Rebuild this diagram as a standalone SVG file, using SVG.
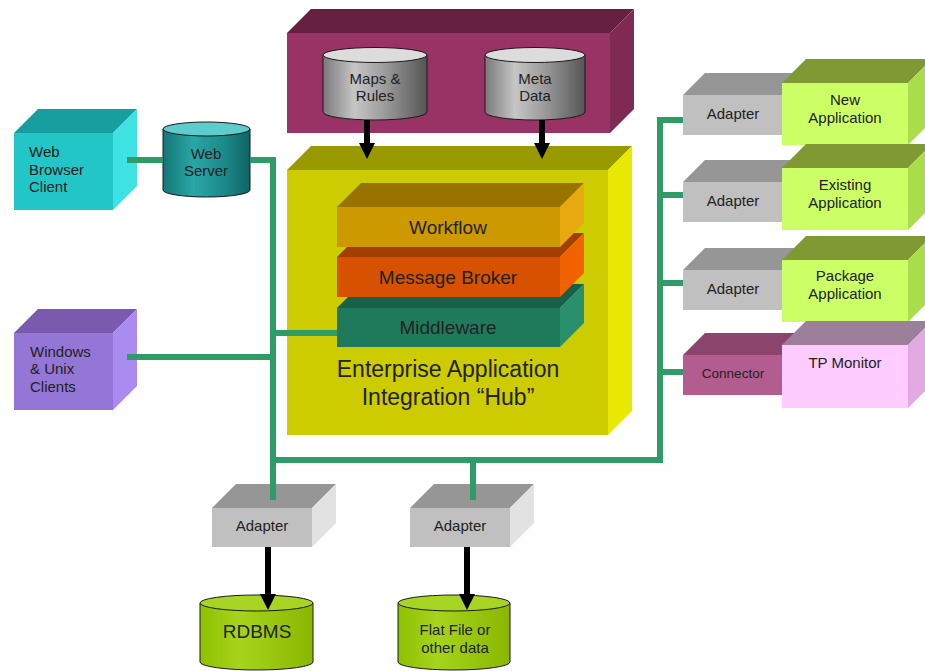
<svg xmlns="http://www.w3.org/2000/svg" width="925" height="671" viewBox="0 0 925 671">
  <style>
    text { font-family: "Liberation Sans", Arial, sans-serif; fill: #222; }
    .lbl { font-size: 15px; }
    .mid { text-anchor: middle; }
    .slab { font-size: 19px; text-anchor: middle; }
    .hub { font-size: 23px; text-anchor: middle; }
    .bus { fill: none; stroke: #2f9b66; stroke-width: 6; stroke-linejoin: miter; stroke-linecap: butt; }
    .flow { fill: none; stroke: #000; stroke-width: 6; marker-end: url(#head); }
    .cyl { stroke: #1a1a1a; stroke-width: 1; }
  </style>
  <defs>
    <marker id="head" markerUnits="userSpaceOnUse" markerWidth="16" markerHeight="16" refX="6" refY="8" orient="auto" viewBox="0 0 16 16">
      <path d="M0,0 L16,8 L0,16 z" fill="#000"/>
    </marker>
    <linearGradient id="grayCyl" x1="0" y1="0" x2="1" y2="0">
      <stop offset="0" stop-color="#7a7a7a"/>
      <stop offset="0.3" stop-color="#c6c6c6"/>
      <stop offset="0.6" stop-color="#9a9a9a"/>
      <stop offset="1" stop-color="#555"/>
    </linearGradient>
    <linearGradient id="tealCyl" x1="0" y1="0" x2="1" y2="0">
      <stop offset="0" stop-color="#137676"/>
      <stop offset="0.35" stop-color="#2aa6a6"/>
      <stop offset="0.7" stop-color="#1b8a8a"/>
      <stop offset="1" stop-color="#0f6464"/>
    </linearGradient>
    <linearGradient id="greenCyl" x1="0" y1="0" x2="1" y2="0">
      <stop offset="0" stop-color="#8fc000"/>
      <stop offset="0.35" stop-color="#a6d41c"/>
      <stop offset="1" stop-color="#8ab800"/>
    </linearGradient>
  </defs>

  <!-- Web browser client -->
  <g id="web-browser-client">
    <rect x="14" y="133" width="99" height="77" fill="#22c6c6"/>
    <polygon points="14,133 38,109 137,109 113,133" fill="#179e9e"/>
    <polygon points="113,133 137,109 137,186 113,210" fill="#3ee2e2"/>
    <text class="lbl" x="29" y="157">Web</text>
    <text class="lbl" x="29" y="175">Browser</text>
    <text class="lbl" x="29" y="192">Client</text>
  </g>

  <!-- Web server -->
  <g id="web-server">
    <path class="cyl" d="M163,129 V190 A43.5,7 0 0 0 250,190 V129 Z" fill="url(#tealCyl)"/>
    <ellipse class="cyl" cx="206.5" cy="129" rx="43.5" ry="7" fill="#5ccccc"/>
    <text class="lbl mid" x="206" y="159">Web</text>
    <text class="lbl mid" x="206" y="176">Server</text>
  </g>

  <!-- Windows & Unix clients -->
  <g id="windows-unix-clients">
    <rect x="14" y="333" width="99" height="77" fill="#9476d6"/>
    <polygon points="14,333 38,309 137,309 113,333" fill="#7a5aae"/>
    <polygon points="113,333 137,309 137,386 113,410" fill="#aa8bef"/>
    <text class="lbl" x="30" y="357">Windows</text>
    <text class="lbl" x="30" y="374">&amp; Unix</text>
    <text class="lbl" x="30" y="392">Clients</text>
  </g>

  <!-- Repository block holding the two stores -->
  <g id="repository">
    <rect x="287" y="33" width="323" height="100" fill="#993366"/>
    <polygon points="287,33 311,9 634,9 610,33" fill="#66203f"/>
    <polygon points="610,33 634,9 634,109 610,133" fill="#7f2a52"/>
  </g>

  <g id="maps-rules">
    <path class="cyl" d="M323,55 V112 A52,8 0 0 0 427,112 V55 Z" fill="url(#grayCyl)"/>
    <ellipse class="cyl" cx="375" cy="55" rx="52" ry="7.5" fill="#dcdcdc"/>
    <text class="lbl mid" x="375" y="84">Maps &amp;</text>
    <text class="lbl mid" x="375" y="101">Rules</text>
  </g>

  <g id="meta-data">
    <path class="cyl" d="M485,55 V112 A50,8 0 0 0 585,112 V55 Z" fill="url(#grayCyl)"/>
    <ellipse class="cyl" cx="535" cy="55" rx="50" ry="7.5" fill="#dcdcdc"/>
    <text class="lbl mid" x="535" y="84">Meta</text>
    <text class="lbl mid" x="535" y="101">Data</text>
  </g>

  <!-- EAI hub with its three layers -->
  <g id="eai-hub">
    <rect x="287" y="170" width="321" height="265" fill="#cccc00"/>
    <polygon points="287,170 311,146 632,146 608,170" fill="#999900"/>
    <polygon points="608,170 632,146 632,411 608,435" fill="#e8e800"/>
    <text class="hub" x="448" y="377">Enterprise Application</text>
    <text class="hub" x="448" y="405">Integration “Hub”</text>
  </g>

  <g id="middleware">
    <rect x="337" y="308" width="223" height="39" fill="#1f7a5c"/>
    <polygon points="337,308 361,284 584,284 560,308" fill="#176049"/>
    <polygon points="560,308 584,284 584,323 560,347" fill="#2a8f6c"/>
    <text class="slab" x="448" y="334">Middleware</text>
  </g>

  <g id="message-broker">
    <rect x="337" y="257" width="223" height="40" fill="#d65200"/>
    <polygon points="337,257 361,233 584,233 560,257" fill="#a33d00"/>
    <polygon points="560,257 584,233 584,273 560,297" fill="#f26200"/>
    <text class="slab" x="448" y="284">Message Broker</text>
  </g>

  <g id="workflow">
    <rect x="337" y="207" width="223" height="40" fill="#cc9900"/>
    <polygon points="337,207 361,183 584,183 560,207" fill="#997300"/>
    <polygon points="560,207 584,183 584,223 560,247" fill="#e8a810"/>
    <text class="slab" x="448" y="234">Workflow</text>
  </g>

  <!-- Right-hand applications and their adapters -->
  <g id="adapter-new">
    <rect x="683" y="95" width="100" height="40" fill="#c0c0c0"/>
    <polygon points="683,95 705,73 805,73 783,95" fill="#969696"/>
    <text class="lbl mid" x="733" y="119">Adapter</text>
  </g>
  <g id="new-application">
    <rect x="782" y="83" width="126" height="62" fill="#ccff66"/>
    <polygon points="782,83 806,59 932,59 908,83" fill="#7f9933"/>
    <polygon points="908,83 932,59 932,121 908,145" fill="#a9dd4c"/>
    <text class="lbl mid" x="845" y="105">New</text>
    <text class="lbl mid" x="845" y="123">Application</text>
  </g>

  <g id="adapter-existing">
    <rect x="683" y="182" width="100" height="40" fill="#c0c0c0"/>
    <polygon points="683,182 705,160 805,160 783,182" fill="#969696"/>
    <text class="lbl mid" x="733" y="206">Adapter</text>
  </g>
  <g id="existing-application">
    <rect x="782" y="168" width="126" height="62" fill="#ccff66"/>
    <polygon points="782,168 806,144 932,144 908,168" fill="#7f9933"/>
    <polygon points="908,168 932,144 932,206 908,230" fill="#a9dd4c"/>
    <text class="lbl mid" x="845" y="190">Existing</text>
    <text class="lbl mid" x="845" y="208">Application</text>
  </g>

  <g id="adapter-package">
    <rect x="683" y="270" width="100" height="40" fill="#c0c0c0"/>
    <polygon points="683,270 705,248 805,248 783,270" fill="#969696"/>
    <text class="lbl mid" x="733" y="294">Adapter</text>
  </g>
  <g id="package-application">
    <rect x="782" y="260" width="126" height="62" fill="#ccff66"/>
    <polygon points="782,260 806,236 932,236 908,260" fill="#7f9933"/>
    <polygon points="908,260 932,236 932,298 908,322" fill="#a9dd4c"/>
    <text class="lbl mid" x="845" y="281">Package</text>
    <text class="lbl mid" x="845" y="299">Application</text>
  </g>

  <g id="connector">
    <rect x="683" y="355" width="100" height="40" fill="#b35c8f"/>
    <polygon points="683,355 705,333 805,333 783,355" fill="#8c466e"/>
    <text class="mid" x="733" y="378" style="font-size:13.5px">Connector</text>
  </g>
  <g id="tp-monitor">
    <rect x="782" y="345" width="126" height="63" fill="#ffccff"/>
    <polygon points="782,345 806,321 932,321 908,345" fill="#9c7f99"/>
    <polygon points="908,345 932,321 932,384 908,408" fill="#e2a8e2"/>
    <text class="lbl mid" x="845" y="368">TP Monitor</text>
  </g>

  <!-- Bottom adapters and data stores -->
  <g id="adapter-rdbms">
    <rect x="212" y="508" width="100" height="39" fill="#c0c0c0"/>
    <polygon points="212,508 236,484 336,484 312,508" fill="#969696"/>
    <polygon points="312,508 336,484 336,523 312,547" fill="#e2e2e2"/>
    <text class="lbl mid" x="262" y="531">Adapter</text>
  </g>
  <g id="adapter-flat-file">
    <rect x="410" y="508" width="100" height="39" fill="#c0c0c0"/>
    <polygon points="410,508 434,484 534,484 510,508" fill="#969696"/>
    <polygon points="510,508 534,484 534,523 510,547" fill="#e2e2e2"/>
    <text class="lbl mid" x="460" y="531">Adapter</text>
  </g>

  <g id="rdbms">
    <path class="cyl" d="M200,603 V662 A56.5,8 0 0 0 313,662 V603 Z" fill="url(#greenCyl)"/>
    <ellipse class="cyl" cx="256.5" cy="603" rx="56.5" ry="8" fill="#a8d424"/>
    <text class="mid" x="257" y="638" style="font-size:19px">RDBMS</text>
  </g>
  <g id="flat-file">
    <path class="cyl" d="M398,603 V662 A56,8 0 0 0 510,662 V603 Z" fill="url(#greenCyl)"/>
    <ellipse class="cyl" cx="454" cy="603" rx="56" ry="8" fill="#a8d424"/>
    <text class="lbl mid" x="455" y="635">Flat File or</text>
    <text class="lbl mid" x="455" y="653">other data</text>
  </g>

  <!-- Connectors: green bus and black data-flow arrows -->
  <g id="connectors">
    <path class="bus" d="M127,160 H163"/>
    <path class="bus" d="M250,160 H273 V500"/>
    <path class="bus" d="M127,357 H273"/>
    <path class="bus" d="M273,333 H337"/>
    <path class="bus" d="M273,460 H660 V120 H683"/>
    <path class="bus" d="M660,195 H683"/>
    <path class="bus" d="M660,283 H683"/>
    <path class="bus" d="M660,372 H683"/>
    <path class="bus" d="M473,460 V500"/>
    <path class="flow" d="M367,120 V149"/>
    <path class="flow" d="M542,120 V149"/>
    <path class="flow" d="M268,547 V600"/>
    <path class="flow" d="M467,547 V600"/>
  </g>
</svg>
